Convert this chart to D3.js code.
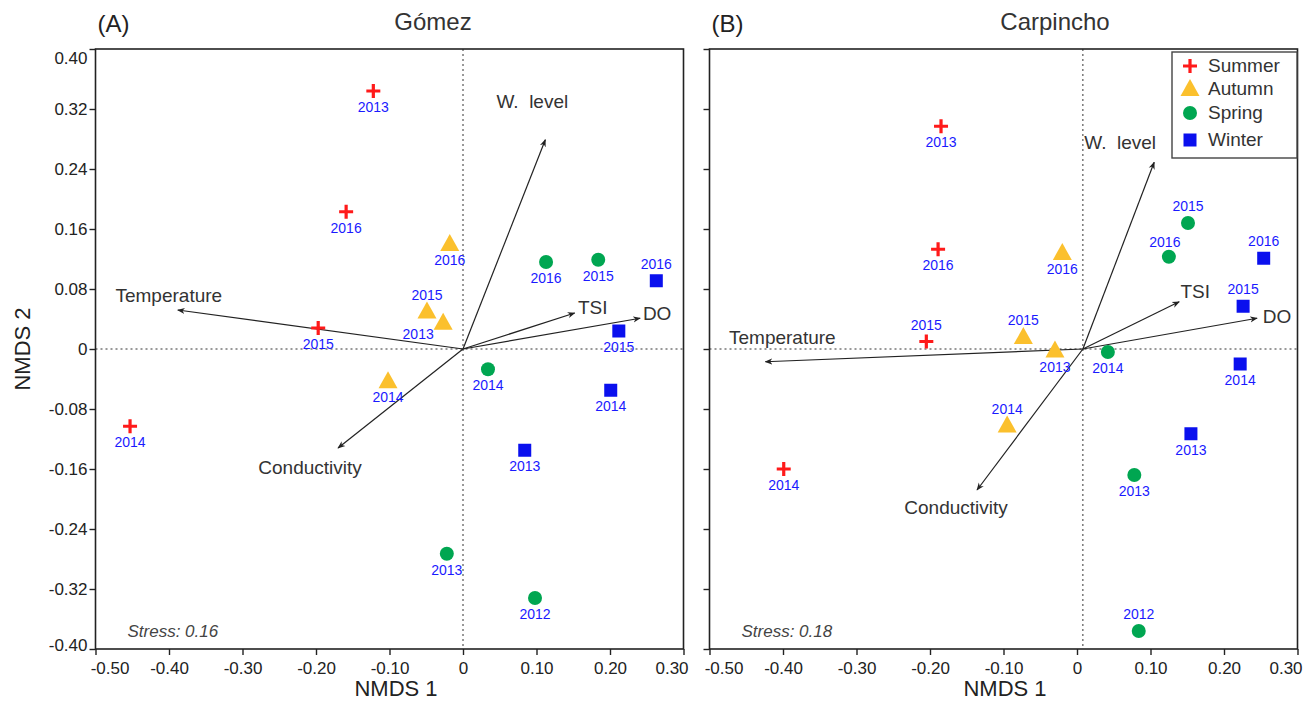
<!DOCTYPE html>
<html><head><meta charset="utf-8">
<script src="https://cdn.jsdelivr.net/npm/d3@7"></script>
<style>body{margin:0;background:#fff}svg{display:block}text{font-family:"Liberation Sans",Arial,sans-serif}</style>
</head><body><svg id="c" width="1314" height="710"></svg>
<script>
const xTicks=[-0.5,-0.4,-0.3,-0.2,-0.1,0,0.1,0.2,0.3];
const xTickLabels=["-0.50","-0.40","-0.30","-0.20","-0.10","0","0.10","0.20","0.30"];
const yTicks=[0.4,0.32,0.24,0.16,0.08,0,-0.08,-0.16,-0.24,-0.32,-0.4];
const yTickLabels=["0.40","0.32","0.24","0.16","0.08","0","-0.08","-0.16","-0.24","-0.32","-0.40"];
const seasons=["Summer","Autumn","Spring","Winter"];
const seasonColors=["#ff1a1a","#fbc02d","#00a651","#0a10ee"];

// Panel A (Gómez) points: [year, NMDS1, NMDS2]
const gomezSummer=[["2013",-0.122,0.344],["2016",-0.159,0.183],["2015",-0.197,0.028],["2014",-0.453,-0.103]];
const gomezAutumn=[["2016",-0.018,0.140],["2015",-0.049,0.050],["2013",-0.027,0.035],["2014",-0.102,-0.043]];
const gomezSpring=[["2016",0.113,0.116],["2015",0.184,0.119],["2014",0.034,-0.027],["2013",-0.022,-0.273],["2012",0.098,-0.332]];
const gomezWinter=[["2016",0.263,0.091],["2015",0.212,0.024],["2014",0.201,-0.055],["2013",0.084,-0.135]];
const gomezVectors=[["W.\u00a0\u00a0level",0.112,0.279],["TSI",0.152,0.048],["DO",0.241,0.041],["Temperature",-0.388,0.052],["Conductivity",-0.170,-0.132]];

// Panel B (Carpincho)
const carpSummer=[["2013",-0.185,0.297],["2016",-0.189,0.133],["2015",-0.205,0.010],["2014",-0.399,-0.160]];
const carpAutumn=[["2016",-0.020,0.128],["2015",-0.073,0.016],["2013",-0.030,-0.002],["2014",-0.095,-0.102]];
const carpSpring=[["2015",0.151,0.168],["2016",0.125,0.123],["2014",0.042,-0.004],["2013",0.078,-0.168],["2012",0.084,-0.376]];
const carpWinter=[["2016",0.254,0.121],["2015",0.226,0.057],["2014",0.222,-0.020],["2013",0.155,-0.113]];
const carpVectors=[["W.\u00a0\u00a0level",0.097,0.249],["TSI",0.131,0.063],["DO",0.237,0.041],["Temperature",-0.432,-0.017],["Conductivity",-0.144,-0.188]];

// label placement codes (layout)
const gomezLabelPos={Summer:["b","b","b","b"],Autumn:["b","a","l","b"],Spring:["b","b","b","b","b"],Winter:["a","b","b","b"]};
const carpLabelPos={Summer:["b","b","a","b"],Autumn:["b","a","b","a"],Spring:["a","al","b","b","a"],Winter:["a","a","b","b"]};
const gomezVecLabel={"W.\u00a0\u00a0level":[-13,-38],"TSI":[18,-5],"DO":[17,-4],"Temperature":[-9,-14],"Conductivity":[-28,20]};
const carpVecLabel={"W.\u00a0\u00a0level":[-34,-19],"TSI":[16,-10],"DO":[20,-1],"Temperature":[17,-24],"Conductivity":[-21,18]};

const svg=d3.select("#c");
const defs=svg.append("defs");
defs.append("marker").attr("id","ah").attr("viewBox","0 0 10 10").attr("refX",9).attr("refY",5)
 .attr("markerWidth",6.5).attr("markerHeight",6.5).attr("orient","auto")
 .append("path").attr("d","M0,1 L10,5 L0,9 L3,5 Z").attr("fill","#222");

function panel(opt){
  const x=d3.scaleLinear().domain([-0.5,0.3]).range([opt.x0,opt.x0+588]);
  const y=d3.scaleLinear().domain([-0.4,0.4]).range([649,49]);
  const g=svg.append("g");
  g.append("line").attr("x1",x(opt.zx)).attr("x2",x(opt.zx)).attr("y1",49).attr("y2",649)
   .attr("stroke","#333").attr("stroke-width",1).attr("stroke-dasharray","2,3");
  g.append("line").attr("x1",x(-0.5)).attr("x2",x(0.3)).attr("y1",y(0)).attr("y2",y(0))
   .attr("stroke","#333").attr("stroke-width",1).attr("stroke-dasharray","2,3");
  g.append("rect").attr("x",x(-0.5)).attr("y",49).attr("width",588).attr("height",600)
   .attr("fill","none").attr("stroke","#222").attr("stroke-width",1.6);
  const xa=d3.axisBottom(x).tickValues(xTicks).tickFormat((d,i)=>xTickLabels[i]).tickSize(6).tickSizeOuter(0);
  const gx=g.append("g").attr("transform","translate(0,649)").call(xa);
  gx.select(".domain").remove();
  gx.selectAll("line").attr("stroke","#222").attr("stroke-width",1.4);
  gx.selectAll("text").attr("font-size",17).attr("fill","#222").attr("dy","0.95em")
   .attr("dx",(d,i)=>i===0?14:(i===8?-12:0));
  const ya=d3.axisLeft(y).tickValues(yTicks).tickFormat((d,i)=>opt.yLabels?yTickLabels[i]:"").tickSize(6).tickSizeOuter(0);
  const gy=g.append("g").attr("transform",`translate(${x(-0.5)},0)`).call(ya);
  gy.select(".domain").remove();
  gy.selectAll("line").attr("stroke","#222").attr("stroke-width",1.4);
  gy.selectAll("text").attr("font-size",17).attr("fill","#222").attr("x",-8)
   .attr("dy",(d,i)=>i===0?"0.85em":(i===10?"0.1em":"0.32em"));
  g.append("text").attr("x",opt.tx).attr("y",30).attr("text-anchor","middle").attr("font-size",24).attr("fill","#333").text(opt.title);
  g.append("text").attr("x",x(-0.5)+2).attr("y",32).attr("font-size",24).attr("fill","#222").text(opt.letter);
  g.append("text").attr("x",opt.nx).attr("y",696).attr("text-anchor","middle").attr("font-size",22).attr("fill","#222").text("NMDS 1");
  if(opt.yLabels) g.append("text").attr("transform","translate(30,349) rotate(-90)").attr("text-anchor","middle").attr("font-size",22).attr("fill","#222").text("NMDS 2");
  g.append("text").attr("x",x(-0.5)+32).attr("y",637).attr("font-size",17).attr("font-style","italic").attr("fill","#444").text(opt.stress);
  const ox=x(opt.zx), oy=y(0);
  opt.vectors.forEach(v=>{
    g.append("line").attr("x1",ox).attr("y1",oy).attr("x2",x(opt.zx+v[1])).attr("y2",y(v[2]))
     .attr("stroke","#222").attr("stroke-width",1.2).attr("marker-end","url(#ah)");
    const off=opt.vecLabel[v[0]];
    g.append("text").attr("x",x(opt.zx+v[1])+off[0]).attr("y",y(v[2])+off[1]+6).attr("text-anchor","middle")
     .attr("font-size",19).attr("fill","#333").text(v[0]);
  });
  const sets=[opt.summer,opt.autumn,opt.spring,opt.winter];
  sets.forEach((arr,si)=>{
    const pos=opt.labelPos[seasons[si]];
    arr.forEach((p,i)=>{
      const px=x(p[1]), py=y(p[2]);
      drawSymbol(g,si,px,py);
      let lx=px, ly=py+21;
      const c=pos[i];
      if(c==="a"){ly=py-12;}
      if(c==="al"){ly=py-10;lx=px-4;}
      if(c==="l"){lx=px-25;ly=py+16;}
      g.append("text").attr("x",lx).attr("y",ly).attr("text-anchor","middle").attr("font-size",14).attr("fill","#1a1aff").text(p[0]);
    });
  });
}
function drawSymbol(g,si,px,py){
  const col=seasonColors[si];
  if(si===0){
    g.append("path").attr("d",`M${px-7},${py}H${px+7}M${px},${py-7}V${py+7}`).attr("stroke",col).attr("stroke-width",3.2);
  }else if(si===1){
    g.append("path").attr("d",`M${px},${py-10}L${px+9.5},${py+7}L${px-9.5},${py+7}Z`).attr("fill",col);
  }else if(si===2){
    g.append("circle").attr("cx",px).attr("cy",py).attr("r",7).attr("fill",col);
  }else{
    g.append("rect").attr("x",px-6.5).attr("y",py-6.5).attr("width",13).attr("height",13).attr("fill",col);
  }
}
panel({x0:95.5,zx:0,yLabels:true,title:"Gómez",tx:433,letter:"(A)",nx:396,stress:"Stress: 0.16",
  vectors:gomezVectors,vecLabel:gomezVecLabel,summer:gomezSummer,autumn:gomezAutumn,spring:gomezSpring,winter:gomezWinter,labelPos:gomezLabelPos});
panel({x0:709.5,zx:0.008,yLabels:false,title:"Carpincho",tx:1055,letter:"(B)",nx:1005,stress:"Stress: 0.18",
  vectors:carpVectors,vecLabel:carpVecLabel,summer:carpSummer,autumn:carpAutumn,spring:carpSpring,winter:carpWinter,labelPos:carpLabelPos});

const lg=svg.append("g");
lg.append("rect").attr("x",1172).attr("y",52).attr("width",125).attr("height",106).attr("fill","#fff").attr("stroke","#444").attr("stroke-width",1.4);
seasons.forEach((s,i)=>{
  const yy=[66,89,113,140][i];
  drawSymbol(lg,i,1190,yy);
  lg.append("text").attr("x",1208).attr("y",yy+6).attr("font-size",19).attr("fill","#333").text(s);
});
</script></body></html>
